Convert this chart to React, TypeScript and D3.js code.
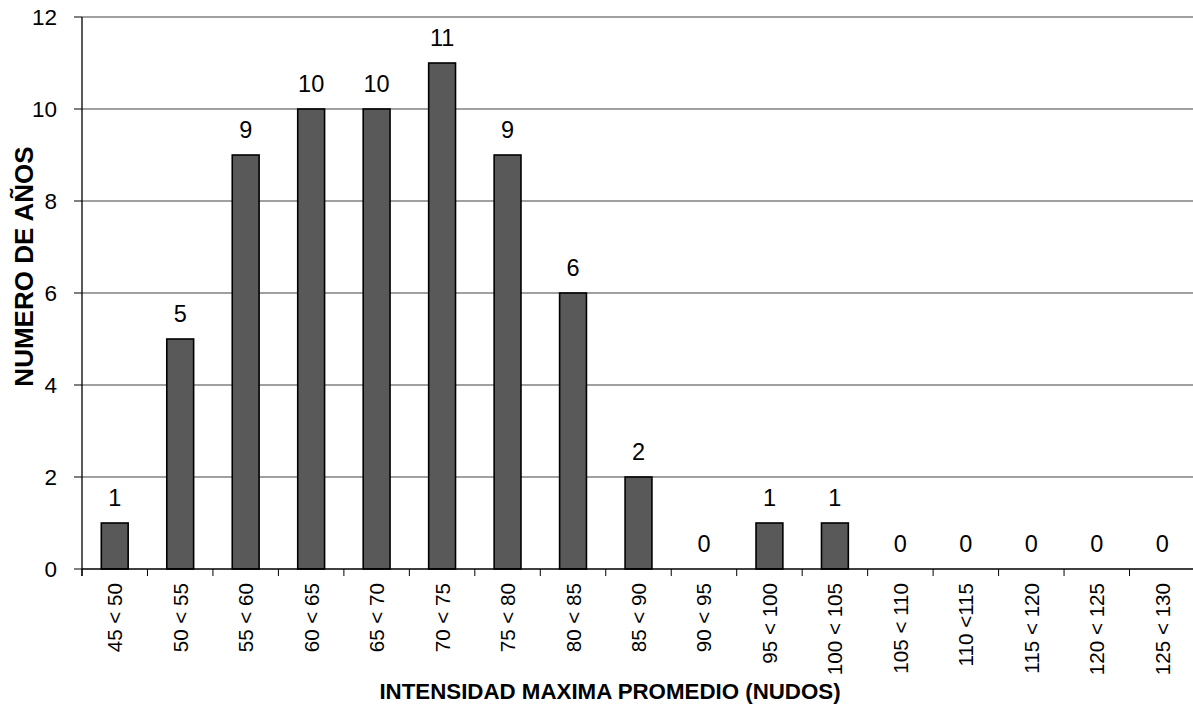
import React from "react";
import * as d3 from "d3";

const categories = ["45 < 50","50 < 55","55 < 60","60 < 65","65 < 70","70 < 75","75 < 80","80 < 85","85 < 90","90 < 95","95 < 100","100 < 105","105 < 110","110 <115","115 < 120","120 < 125","125 < 130"];
const values = [1,5,9,10,10,11,9,6,2,0,1,1,0,0,0,0,0];
const yTicks = [0,2,4,6,8,10,12];

const W = 1193, H = 710;
const left = 82, right = 1195, top = 17, bottom = 569;
const font = "Arial, 'Liberation Sans', sans-serif";

export default function App() {
  const x = d3.scaleBand<string>().domain(categories).range([left, right]).paddingInner(0).paddingOuter(0);
  const y = d3.scaleLinear().domain([0, 12]).range([bottom, top]);
  const bw = x.bandwidth() * 0.41;
  return (
    <svg width={W} height={H} style={{ position: "absolute", left: 0, top: 0, background: "#fff" }}>
      {yTicks.map(t => (
        <g key={t}>
          {t > 0 && <line x1={left} x2={right} y1={y(t)} y2={y(t)} stroke="#808080" strokeWidth={1.3} />}
          <line x1={74} x2={left} y1={y(t)} y2={y(t)} stroke="#000" strokeWidth={1} />
          <text x={57} y={y(t)} dy="0.36em" textAnchor="end" fontFamily={font} fontSize={22.5}>{t}</text>
        </g>
      ))}
      {categories.map((c, i) => (
        <g key={c}>
          <rect x={x(c)! + (x.bandwidth() - bw) / 2} y={y(values[i])} width={bw} height={bottom - y(values[i])}
            fill="#595959" stroke="#000" strokeWidth={1.6} />
          <text x={x(c)! + x.bandwidth() / 2} y={y(values[i]) - 17} textAnchor="middle" fontFamily={font} fontSize={23.5}>{values[i]}</text>
          <text transform={`translate(${x(c)! + x.bandwidth() / 2 + 7.5},583) rotate(-90)`} textAnchor="end" fontFamily={font} fontSize={20.6}>{c}</text>
        </g>
      ))}
      {[...categories.map(c => x(c)!), right].map((v, i) => (
        <line key={i} x1={v} x2={v} y1={bottom} y2={bottom + 7} stroke="#000" strokeWidth={1} />
      ))}
      <line x1={left} x2={left} y1={top} y2={bottom + 7} stroke="#000" strokeWidth={1.3} />
      <line x1={left} x2={right} y1={bottom} y2={bottom} stroke="#000" strokeWidth={1.3} />
      <text x={610} y={699} textAnchor="middle" fontFamily={font} fontSize={22.3} fontWeight="bold">INTENSIDAD MAXIMA PROMEDIO (NUDOS)</text>
      <text transform="translate(33,266.5) rotate(-90)" textAnchor="middle" fontFamily={font} fontSize={26} fontWeight="bold">NUMERO DE AÑOS</text>
    </svg>
  );
}
